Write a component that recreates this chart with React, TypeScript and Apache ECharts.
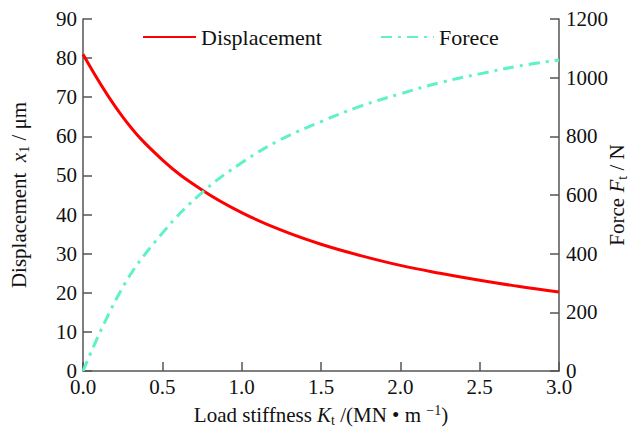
import React, { useEffect, useRef } from "react";
import * as echarts from "echarts";

const stiffness = [0, 0.25, 0.5, 0.75, 1.0, 1.25, 1.5, 1.75, 2.0, 2.25, 2.5, 2.75, 3.0];
const displacement = [81, 65, 54, 46.3, 40.5, 36, 32.4, 29.5, 27, 25, 23.2, 21.6, 20.2];
const force = [0, 285, 470, 608, 710, 790, 850, 903, 945, 983, 1013, 1040, 1060];

const seriesNames = ["Displacement", "Forece"];

const FONT = "'Liberation Serif', 'Times New Roman', serif";

export default function App() {
  const ref = useRef<HTMLDivElement>(null);
  useEffect(() => {
    if (!ref.current) return;
    const chart = echarts.init(ref.current, undefined, { renderer: "svg" });
    const baseRich = {
      n: { fontFamily: FONT, fontSize: 21, color: "#111", lineHeight: 24, verticalAlign: "middle" as const },
      i: { fontFamily: FONT, fontSize: 21, fontStyle: "italic" as const, color: "#111", lineHeight: 24, verticalAlign: "middle" as const },
      sub: { fontFamily: FONT, fontSize: 14, color: "#111", lineHeight: 14, verticalAlign: "bottom" as const },
      sup: { fontFamily: FONT, fontSize: 14, color: "#111", lineHeight: 14, verticalAlign: "top" as const },
    };
    const axisCommon = {
      axisLine: { show: true, lineStyle: { color: "#555", width: 1.5 } },
      axisTick: { show: true, inside: true, length: 9, lineStyle: { color: "#555", width: 1.5 } },
      splitLine: { show: false },
      axisLabel: { fontFamily: FONT, fontSize: 21, color: "#111", lineHeight: 16 },
    };
    chart.setOption({
      animation: false,
      backgroundColor: "#fff",
      grid: { left: 83, right: 71, top: 19, bottom: 58, containLabel: false, outerBoundsMode: "none" },
      legend: {
        data: seriesNames,
        left: 137,
        top: 21,
        itemWidth: 53,
        itemHeight: 14,
        itemGap: 58,
        itemStyle: { opacity: 0 },
        textStyle: { fontFamily: FONT, fontSize: 22, color: "#111" },
      },
      xAxis: {
        type: "value",
        min: 0,
        max: 3,
        interval: 0.5,
        ...axisCommon,
        axisLabel: { ...axisCommon.axisLabel, margin: 8, formatter: (v: number) => v.toFixed(1) },
        name: "{n|Load stiffness }{i|K}{sub|t}{n| /(MN • m }{sup|−1}{n|)}",
        nameLocation: "middle",
        nameGap: 32,
        nameMoveOverlap: false,
        nameTextStyle: { rich: baseRich },
      },
      yAxis: [
        {
          type: "value",
          min: 0,
          max: 90,
          interval: 10,
          position: "left",
          ...axisCommon,
          axisLabel: { ...axisCommon.axisLabel, margin: 6, formatter: (v: number) => String(v) },
          name: "{n|Displacement  }{i|x}{sub|1}{n| / μm}",
          nameLocation: "middle",
          nameGap: 52,
          nameRotate: 90,
          nameMoveOverlap: false,
          nameTextStyle: { rich: baseRich },
        },
        {
          type: "value",
          min: 0,
          max: 1200,
          interval: 200,
          position: "right",
          ...axisCommon,
          axisLabel: { ...axisCommon.axisLabel, margin: 7, formatter: (v: number) => String(v) },
          name: "{n|Force }{i|F}{sub|t}{n| / N}",
          nameLocation: "middle",
          nameGap: 46,
          nameRotate: 90,
          nameMoveOverlap: false,
          nameTextStyle: { rich: baseRich },
        },
      ],
      series: [
        {
          name: seriesNames[0],
          type: "line",
          yAxisIndex: 0,
          smooth: 0.4,
          symbol: "none",
          lineStyle: { color: "#ff0000", width: 3 },
          itemStyle: { color: "#ff0000" },
          data: stiffness.map((k, idx) => [k, displacement[idx]]),
        },
        {
          name: seriesNames[1],
          type: "line",
          yAxisIndex: 1,
          smooth: 0.4,
          symbol: "none",
          lineStyle: { color: "#5ef2c8", width: 3, type: [11, 6, 3, 6] },
          itemStyle: { color: "#5ef2c8" },
          data: stiffness.map((k, idx) => [k, force[idx]]),
        },
      ],
    });
    return () => chart.dispose();
  }, []);
  return (
    <div
      ref={ref}
      style={{ position: "fixed", left: 0, top: 0, width: 630, height: 429, background: "#fff" }}
    />
  );
}
